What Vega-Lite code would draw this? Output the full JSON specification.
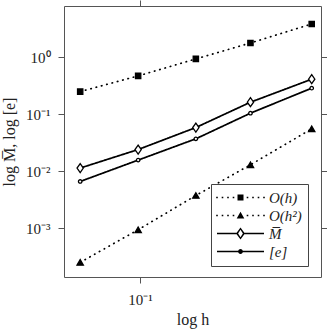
{
  "$schema": "https://vega.github.io/schema/vega-lite/v6.json",
  "width": 257,
  "height": 271,
  "autosize": "none",
  "padding": {"left": 64, "top": 6, "right": 6, "bottom": 55},
  "background": "white",
  "config": {
    "view": {"stroke": "#555", "strokeWidth": 1},
    "font": "Liberation Serif",
    "axis": {"domain": false, "grid": false, "tickColor": "#555", "tickSize": 6, "tickWidth": 1, "labelFont": "Liberation Serif", "labelFontSize": 15, "labelColor": "#222", "titleFont": "Liberation Serif", "titleFontSize": 16, "titleFontWeight": "normal", "titleColor": "#222"}
  },
  "data": {
    "values": [
      {"h": 0.0488, "v": 0.249, "series": "O(h)"},
      {"h": 0.0977, "v": 0.470, "series": "O(h)"},
      {"h": 0.195, "v": 0.934, "series": "O(h)"},
      {"h": 0.375, "v": 1.78, "series": "O(h)"},
      {"h": 0.781, "v": 3.84, "series": "O(h)"},
      {"h": 0.0488, "v": 0.000249, "series": "O(h²)"},
      {"h": 0.0977, "v": 0.000933, "series": "O(h²)"},
      {"h": 0.195, "v": 0.00373, "series": "O(h²)"},
      {"h": 0.375, "v": 0.0129, "series": "O(h²)"},
      {"h": 0.781, "v": 0.0552, "series": "O(h²)"},
      {"h": 0.0488, "v": 0.0113, "series": "M\u0305"},
      {"h": 0.0977, "v": 0.0239, "series": "M\u0305"},
      {"h": 0.195, "v": 0.0582, "series": "M\u0305"},
      {"h": 0.375, "v": 0.162, "series": "M\u0305"},
      {"h": 0.781, "v": 0.411, "series": "M\u0305"},
      {"h": 0.0488, "v": 0.00657, "series": "[e]"},
      {"h": 0.0977, "v": 0.0156, "series": "[e]"},
      {"h": 0.195, "v": 0.0369, "series": "[e]"},
      {"h": 0.375, "v": 0.104, "series": "[e]"},
      {"h": 0.781, "v": 0.286, "series": "[e]"}
    ]
  },
  "layer": [
    {
      "mark": {"type": "line", "color": "black", "strokeWidth": 1.7, "strokeCap": "round"},
      "encoding": {
        "x": {"field": "h", "type": "quantitative", "scale": {"type": "log", "domain": [0.0402, 0.873], "nice": false},
              "axis": {"values": [0.1], "labelExpr": "'10⁻¹'", "labelPadding": 9, "title": "log h", "titlePadding": 4}},
        "y": {"field": "v", "type": "quantitative", "scale": {"type": "log", "domain": [0.000138, 7.94], "nice": false},
              "axis": {"values": [0.001, 0.01, 0.1, 1], "labelExpr": "'10' + (datum.value > 0.5 ? '⁰' : datum.value > 0.05 ? '⁻¹' : datum.value > 0.005 ? '⁻²' : '⁻³')", "labelPadding": 8, "title": "log M\u0305, log [e]", "titlePadding": 8}},
        "detail": {"field": "series"},
        "strokeDash": {"condition": {"test": "datum.series === 'M\u0305' || datum.series === '[e]'", "value": [1, 0]}, "value": [0.5, 5]}
      }
    },
    {
      "mark": {"type": "point", "filled": false, "stroke": "black", "strokeWidth": 1.3, "opacity": 1},
      "encoding": {
        "x": {"field": "h", "type": "quantitative", "axis": {"orient": "top", "values": [0.1], "labels": false, "title": null, "tickSize": 6}},
        "y": {"field": "v", "type": "quantitative", "axis": {"orient": "right", "values": [0.001, 0.01, 0.1, 1], "labels": false, "title": null, "tickSize": 6}},
        "fill": {"condition": {"test": "datum.series === 'M\u0305' || datum.series === '[e]'", "value": "white"}, "value": "black"},
        "size": {"condition": [{"test": "datum.series === 'M\u0305'", "value": 81}, {"test": "datum.series === '[e]'", "value": 12}, {"test": "datum.series === 'O(h)'", "value": 28}], "value": 40},
        "shape": {"condition": [{"test": "datum.series === 'O(h)'", "value": "square"}, {"test": "datum.series === 'O(h²)'", "value": "triangle-up"}, {"test": "datum.series === 'M\u0305'", "value": "M0,-1L0.7,0L0,1L-0.7,0Z"}], "value": "circle"}
      }
    },
    {
      "transform": [{"filter": "false"}],
      "mark": {"type": "point", "filled": true, "fill": "black", "strokeWidth": 0},
      "encoding": {
        "shape": {"field": "series", "type": "nominal",
                  "scale": {"domain": ["O(h)", "O(h²)", "M\u0305", "[e]"],
                            "range": ["M-4.15,-0.4h0.8v0.8h-0.8ZM-1.4,-0.4h0.8v0.8h-0.8ZM1.35,-0.4h0.8v0.8h-0.8ZM4.1,-0.4h0.8v0.8h-0.8ZM6.5,-1.5h3v3h-3ZM11.1,-0.4h0.8v0.8h-0.8ZM13.85,-0.4h0.8v0.8h-0.8ZM16.6,-0.4h0.8v0.8h-0.8ZM19.35,-0.4h0.8v0.8h-0.8Z",
                                      "M-4.15,-0.4h0.8v0.8h-0.8ZM-1.4,-0.4h0.8v0.8h-0.8ZM1.35,-0.4h0.8v0.8h-0.8ZM4.1,-0.4h0.8v0.8h-0.8ZM8,-1.9L9.9,1.5L6.1,1.5ZM11.1,-0.4h0.8v0.8h-0.8ZM13.85,-0.4h0.8v0.8h-0.8ZM16.6,-0.4h0.8v0.8h-0.8ZM19.35,-0.4h0.8v0.8h-0.8Z",
                                      "M-3.75,-0.4H6.3v0.8H-3.75ZM9.7,-0.4H19.75v0.8H9.7ZM8,-3L10.2,0L8,3L5.8,0ZM8,-1.9L6.8,0L8,1.9L9.2,0Z",
                                      "M-3.75,-0.4H19.75v0.8H-3.75ZM9.2,0A1.2,1.2,0,1,1,6.8,0A1.2,1.2,0,1,1,9.2,0Z"]},
                  "legend": {
                    "title": null,
                    "orient": "none",
                    "legendX": 147,
                    "legendY": 178,
                    "padding": 6,
                    "rowPadding": 2,
                    "strokeColor": "#444",
                    "fillColor": "white",
                    "labelFont": "Liberation Serif",
                    "labelFontSize": 15,
                    "labelFontStyle": "italic",
                    "labelColor": "#222",
                    "labelOffset": 37,
                    "symbolSize": 16,
                    "symbolStrokeWidth": 0,
                    "symbolFillColor": "black",
                    "symbolOpacity": 1
                  }}
      }
    }
  ],
  "resolve": {"axis": {"x": "independent", "y": "independent"}}
}
